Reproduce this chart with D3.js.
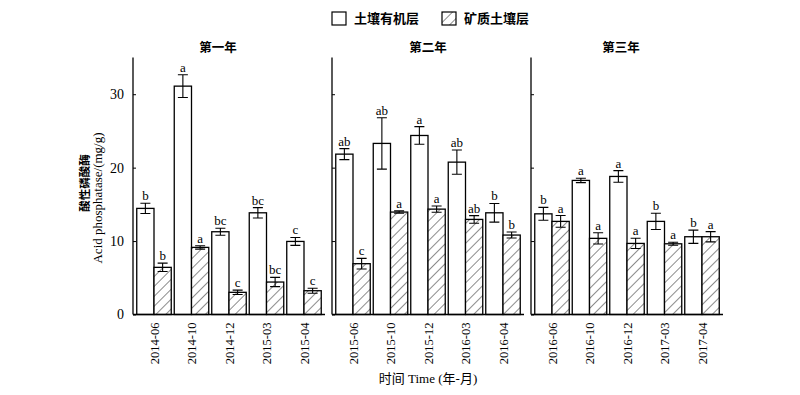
<!DOCTYPE html>
<html>
<head>
<meta charset="utf-8">
<script src="https://cdn.jsdelivr.net/npm/d3@7"></script>
<style>
  body { margin: 0; background: #fff; }
  text { font-family: "Liberation Serif", "Noto Sans CJK SC", serif; fill: #000; }
  .bar { stroke: #000; stroke-width: 1.3; }
  .err { stroke: #000; stroke-width: 1.1; fill: none; }
</style>
</head>
<body>
<svg id="chart" width="800" height="395"></svg>
<script>
var years = ["第一年", "第二年", "第三年"];

var dates = [
  ["2014-06", "2014-10", "2014-12", "2015-03", "2015-04"],
  ["2015-06", "2015-10", "2015-12", "2016-03", "2016-04"],
  ["2016-06", "2016-10", "2016-12", "2017-03", "2017-04"]
];

// 土壤有机层
var organic = [
  [14.45, 31.1, 11.27, 13.85, 9.95],
  [21.84, 23.3, 24.38, 20.75, 13.85],
  [13.71, 18.26, 18.8, 12.68, 10.59]
];
var organicErr = [
  [0.7, 1.55, 0.48, 0.7, 0.54],
  [0.75, 3.5, 1.2, 1.65, 1.27],
  [0.88, 0.3, 0.79, 1.1, 0.9]
];
var organicSig = [
  ["b", "a", "bc", "bc", "c"],
  ["ab", "ab", "a", "ab", "b"],
  ["b", "a", "a", "b", "b"]
];

// 矿质土壤层
var mineral = [
  [6.42, 9.14, 3.02, 4.42, 3.24],
  [6.92, 13.95, 14.35, 12.95, 10.82],
  [12.68, 10.37, 9.68, 9.63, 10.59]
];
var mineralErr = [
  [0.57, 0.23, 0.3, 0.63, 0.34],
  [0.73, 0.16, 0.43, 0.52, 0.41],
  [0.8, 0.77, 0.7, 0.2, 0.7]
];
var mineralSig = [
  ["b", "a", "c", "bc", "c"],
  ["c", "a", "a", "ab", "b"],
  ["a", "a", "a", "a", "a"]
];

var layers = ["土壤有机层", "矿质土壤层"];
var yTicks = [0, 10, 20, 30];

var svg = d3.select("#chart");

var panelLeft = [133, 332, 531],
    panelWidth = 192,
    plotTop = 57.5,
    plotBottom = 314.5;

// hatch pattern for the mineral layer
svg.append("defs").append("pattern")
    .attr("id", "hatch")
    .attr("patternUnits", "userSpaceOnUse")
    .attr("width", 7)
    .attr("height", 7)
    .attr("patternTransform", "rotate(45)")
  .call(function(p) {
    p.append("rect").attr("width", 7).attr("height", 7).attr("fill", "#fff");
    p.append("line")
      .attr("x1", 0).attr("y1", 0).attr("x2", 0).attr("y2", 7)
      .attr("stroke", "#000").attr("stroke-width", 0.9);
  });

var y = d3.scaleLinear()
    .domain([0, 35])
    .range([plotBottom, plotTop]);

var sub = d3.scaleBand()
    .domain([0, 1])
    .paddingInner(0);

years.forEach(function(year, i) {
  var g = svg.append("g")
      .attr("transform", "translate(" + panelLeft[i] + ",0)");

  var x = d3.scaleBand()
      .domain(dates[i])
      .range([0, panelWidth])
      .paddingInner(0.08)
      .paddingOuter(0.1);

  sub.range([0, x.bandwidth()]);

  var rows = dates[i].map(function(d, j) {
    return [
      {date: d, k: 0, v: organic[i][j], e: organicErr[i][j], s: organicSig[i][j]},
      {date: d, k: 1, v: mineral[i][j], e: mineralErr[i][j], s: mineralSig[i][j]}
    ];
  });
  var items = d3.merge(rows);

  // Bars
  g.selectAll(".bar")
    .data(items)
    .enter().append("rect")
      .attr("class", "bar")
      .attr("x", function(d) { return x(d.date) + sub(d.k); })
      .attr("width", sub.bandwidth())
      .attr("y", function(d) { return y(d.v); })
      .attr("height", function(d) { return y(0) - y(d.v); })
      .attr("fill", function(d) { return d.k ? "url(#hatch)" : "#fff"; });

  // Error bars + significance letters
  var eb = g.selectAll(".errbar")
    .data(items)
    .enter().append("g")
      .attr("transform", function(d) { return "translate(" + (x(d.date) + sub(d.k) + sub.bandwidth() / 2) + ",0)"; });

  eb.append("path")
      .attr("class", "err")
      .attr("d", function(d) {
        var a = y(d.v + d.e), b = y(d.v - d.e);
        return "M-5," + a + "H5M0," + a + "V" + b + "M-5," + b + "H5";
      });

  eb.append("text")
      .attr("y", function(d) { return y(d.v + d.e) - 3; })
      .attr("text-anchor", "middle")
      .attr("font-size", 13)
      .text(function(d) { return d.s; });

  // Axes
  g.append("g")
      .call(d3.axisLeft(y).tickValues(yTicks).tickSize(-3).tickPadding(i === 0 ? 9 : 0).tickFormat(i === 0 ? d3.format("d") : ""))
      .call(function(a) {
        a.select(".domain").attr("d", "M0," + plotTop + "V" + plotBottom).attr("stroke-width", 1.3);
        a.selectAll("text").attr("font-size", 14).attr("font-family", "Liberation Serif");
      });

  g.append("line")
      .attr("x1", 0).attr("x2", panelWidth)
      .attr("y1", plotBottom).attr("y2", plotBottom)
      .attr("stroke", "#000").attr("stroke-width", 1.3);

  g.selectAll(".xlab")
    .data(dates[i])
    .enter().append("text")
      .attr("transform", function(d) { return "translate(" + (x(d) + x.bandwidth() / 2 + 4.5) + "," + (plotBottom + 8) + ")rotate(-90)"; })
      .attr("text-anchor", "end")
      .attr("font-size", 12.5)
      .text(function(d) { return d; });

  g.append("text")
      .attr("x", panelWidth / 2 - [11, 0, 6][i])
      .attr("y", 52)
      .attr("text-anchor", "middle")
      .attr("font-size", 12.5)
      .attr("font-weight", "bold")
      .text(year);
});

// Y axis title
svg.append("text")
    .attr("transform", "translate(89,183)rotate(-90)")
    .attr("text-anchor", "middle")
    .attr("font-size", 11.5)
    .attr("font-weight", "bold")
    .text("酸性磷酸酶");

svg.append("text")
    .attr("transform", "translate(102,198)rotate(-90)")
    .attr("text-anchor", "middle")
    .attr("font-size", 13)
    .text("Acid phosphatase/(mg/g)");

// X axis title
svg.append("text")
    .attr("x", 428)
    .attr("y", 383)
    .attr("text-anchor", "middle")
    .attr("font-size", 13)
    .text("时间 Time (年-月)");

// Legend
var legend = svg.selectAll(".legend")
    .data(layers)
    .enter().append("g")
      .attr("transform", function(d, i) { return "translate(" + (332 + i * 110) + ",12)"; });

legend.append("rect")
    .attr("width", 14)
    .attr("height", 13)
    .attr("fill", function(d, i) { return i ? "url(#hatch)" : "#fff"; })
    .attr("stroke", "#000")
    .attr("stroke-width", 1.2);

legend.append("text")
    .attr("x", 22)
    .attr("y", 11)
    .attr("font-size", 13)
    .attr("font-weight", "bold")
    .text(function(d) { return d; });
</script>
</body>
</html>
